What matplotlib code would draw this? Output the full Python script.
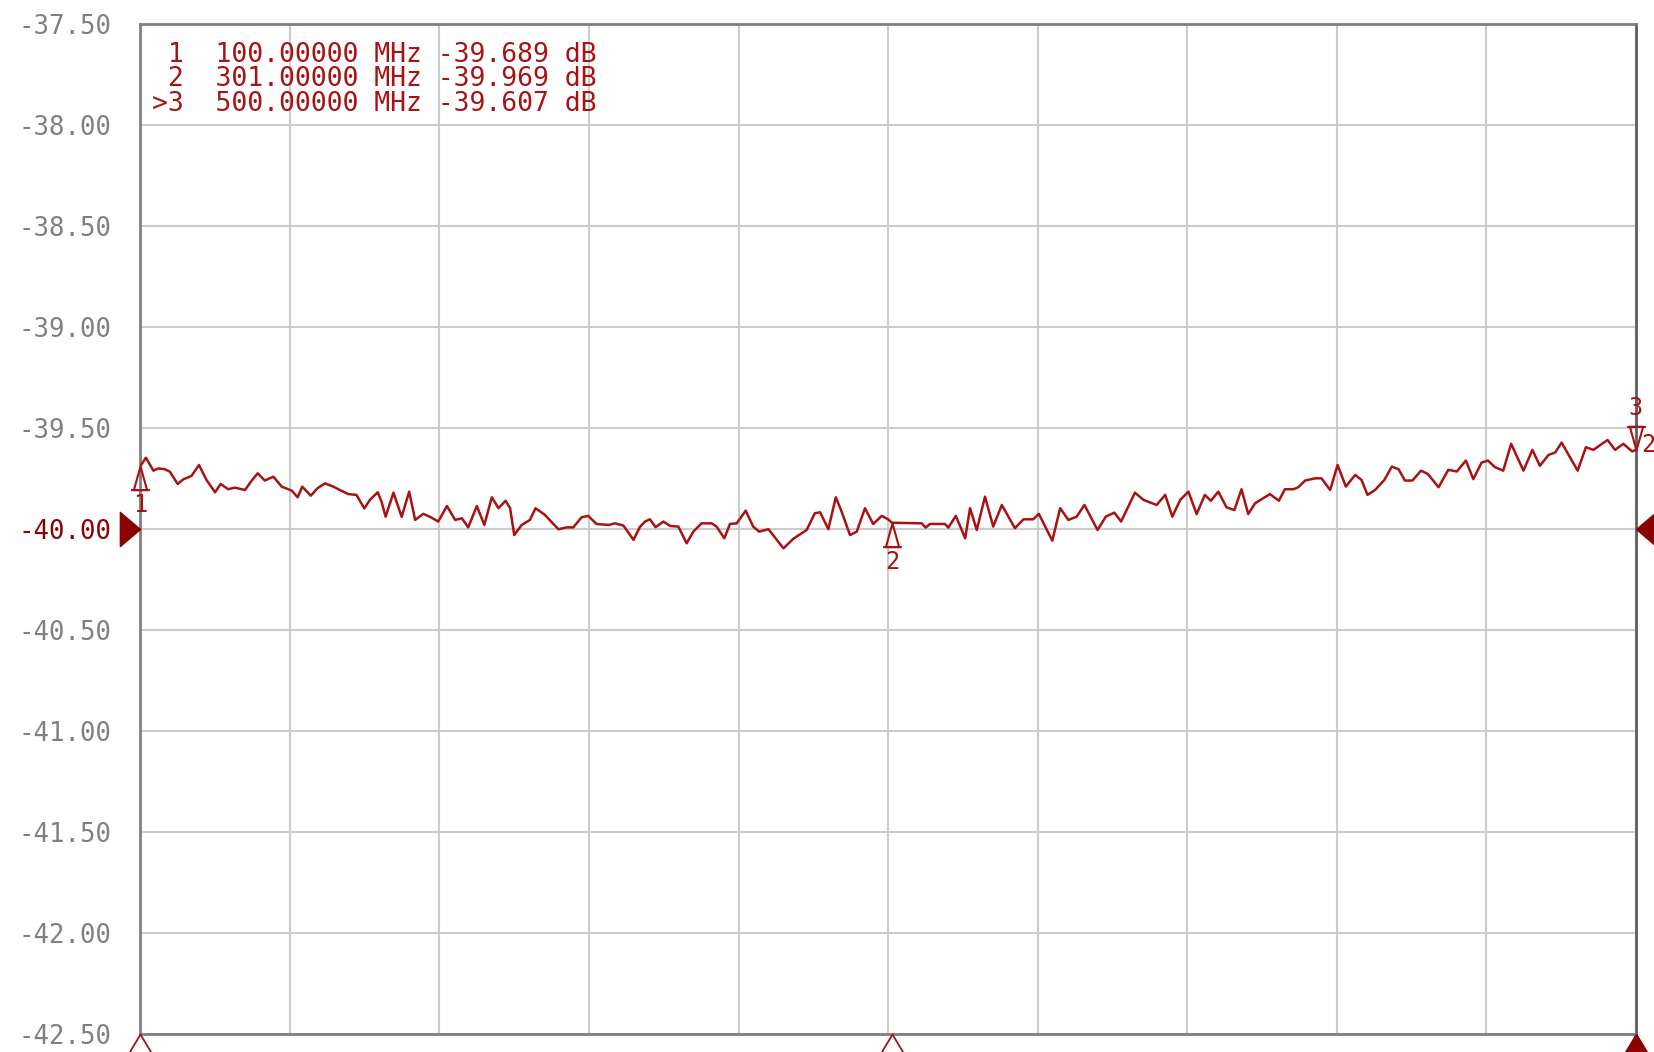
"""Network analyzer trace: 100-500 MHz, three markers.

Run: python plot.py
Outputs: out.png
"""

import matplotlib.pyplot as plt
from matplotlib.path import Path

RED = "#a81212"
DARK_RED = "#8b0000"
GRAY_TXT = "#808080"
MONO = "DejaVu Sans Mono"

# trace vertices (MHz, dB)
FREQ = [
    100.0, 101.5, 103.5, 104.8, 106.4, 107.9, 110.0, 111.5, 113.7, 115.7, 117.7, 120.0,
    121.5, 123.5, 125.3, 128.0, 129.6, 131.4, 133.3, 135.6, 137.8, 140.5, 142.1, 143.3,
    145.6, 147.4, 149.4, 151.6, 153.4, 155.6, 157.8, 159.9, 161.4, 163.5, 164.5, 165.6,
    167.7, 169.9, 171.9, 173.5, 175.7, 177.5, 179.7, 182.0, 184.2, 186.0, 187.7, 190.0,
    192.0, 194.0, 195.8, 197.7, 198.9, 200.0, 202.0, 204.2, 205.7, 208.2, 211.8, 214.0,
    215.8, 218.0, 219.8, 222.0, 225.3, 226.9, 229.2, 231.9,
    233.6, 235.0, 236.3, 237.8, 239.9, 241.7, 243.9, 246.1, 247.9, 250.1, 252.8, 254.1,
    256.2, 257.7, 259.5, 261.9, 263.9, 265.5, 268.0, 272.0, 274.6, 276.9, 278.2, 280.4,
    281.8, 284.0, 286.0, 287.4, 289.8, 291.6, 293.8, 296.0, 298.3, 300.0,
    301.0, 309.0, 310.0, 311.2, 315.2, 316.1, 318.1, 320.6, 321.9, 323.7, 325.9, 328.1,
    330.4, 333.9, 336.2, 338.8, 340.3, 343.9, 346.0, 348.2, 350.4, 352.5, 356.0, 358.2,
    360.5, 362.3,
    366.0, 368.3, 371.8, 374.1, 376.0, 378.1, 380.3, 382.5, 384.7, 386.3, 388.3, 390.5,
    392.6, 394.5, 396.3, 398.1, 400.3, 402.1, 404.5, 406.1, 408.4, 409.7, 411.5, 414.2,
    415.9, 418.2, 420.2, 422.4, 424.9, 426.6, 428.2, 430.2, 432.7,
    434.7, 436.5, 438.2, 440.2, 442.5, 444.3, 447.2, 449.8, 452.1, 454.5, 456.5, 458.7,
    460.4, 462.3, 464.5, 466.6, 469.9, 472.3, 474.3, 476.6, 478.4, 480.1, 484.4, 486.6,
    488.6, 492.4, 494.4, 496.6, 499.0, 500.0,
]
LEVEL_DB = [
    -39.689, -39.647, -39.711, -39.700, -39.703, -39.716, -39.777, -39.754, -39.737, -39.683, -39.757, -39.818,
    -39.777, -39.803, -39.795, -39.807, -39.765, -39.724, -39.760, -39.741, -39.790, -39.810, -39.843, -39.790,
    -39.835, -39.798, -39.774, -39.790, -39.807, -39.827, -39.831, -39.898, -39.856, -39.818, -39.864, -39.939,
    -39.820, -39.940, -39.815, -39.955, -39.925, -39.940, -39.963, -39.886, -39.955, -39.947, -39.992, -39.886,
    -39.980, -39.843, -39.897, -39.860, -39.897, -40.030, -39.980, -39.955, -39.897, -39.930, -40.001, -39.992,
    -39.992, -39.942, -39.935, -39.975, -39.980, -39.972, -39.983, -40.054,
    -39.990, -39.963, -39.952, -39.991, -39.963, -39.985, -39.988, -40.071, -40.013, -39.972, -39.972, -39.988,
    -40.046, -39.975, -39.972, -39.909, -39.988, -40.013, -40.001, -40.096, -40.049, -40.021, -40.005, -39.922,
    -39.917, -40.001, -39.843, -39.906, -40.030, -40.013, -39.897, -39.975, -39.935, -39.952,
    -39.969, -39.972, -39.993, -39.975, -39.975, -39.993, -39.935, -40.046, -39.897, -40.005, -39.840, -39.988,
    -39.881, -39.996, -39.952, -39.952, -39.925, -40.058, -39.897, -39.955, -39.939, -39.881, -40.005, -39.939,
    -39.919, -39.963,
    -39.820, -39.856, -39.881, -39.831, -39.939, -39.856, -39.815, -39.926, -39.831, -39.860, -39.815, -39.893,
    -39.906, -39.803, -39.926, -39.873, -39.848, -39.827, -39.860, -39.803, -39.803, -39.793, -39.760, -39.749,
    -39.749, -39.807, -39.683, -39.790, -39.732, -39.757, -39.831, -39.807, -39.757,
    -39.691, -39.704, -39.760, -39.760, -39.711, -39.727, -39.793, -39.707, -39.715, -39.661, -39.753, -39.671,
    -39.661, -39.694, -39.711, -39.578, -39.711, -39.608, -39.687, -39.633, -39.621, -39.572, -39.711, -39.595,
    -39.608, -39.559, -39.608, -39.578, -39.616, -39.607,
]

MARKER_IDS = ["1", "2", "3"]
MARKER_FREQ = [100.0, 301.0, 500.0]
MARKER_DB = [-39.689, -39.969, -39.607]
ACTIVE = "3"
REF_LEVEL = -40.0

X_MIN, X_MAX, X_STEP = 100, 500, 40
Y_MIN, Y_MAX, Y_STEP = -42.5, -37.5, 0.5


def marker_path(points_down):
    # outline triangle with a base bar, apex sitting on the trace point
    s = -1 if points_down else 1
    verts = [(0, 0), (-0.28, -s), (0.28, -s), (0, 0), (-0.4, -s), (0.4, -s)]
    codes = [Path.MOVETO, Path.LINETO, Path.LINETO, Path.CLOSEPOLY, Path.MOVETO, Path.LINETO]
    return Path(verts, codes)


def tri(direction):
    pts = {
        "right": [(0, 0), (-1, 0.85), (-1, -0.85), (0, 0)],
        "left": [(0, 0), (1, 0.85), (1, -0.85), (0, 0)],
        "up": [(0, 0), (-0.6, -1), (0.6, -1), (0, 0)],
    }[direction]
    codes = [Path.MOVETO, Path.LINETO, Path.LINETO, Path.CLOSEPOLY]
    return Path(pts, codes)


def run():
    W, H = 1654, 1052
    fig = plt.figure(figsize=(W / 100, H / 100), dpi=100)
    left, right, top, bottom = 140.3, 1636.0, 24.3, 1033.7
    ax = fig.add_axes([left / W, 1 - bottom / H, (right - left) / W, (bottom - top) / H])

    ax.plot(FREQ, LEVEL_DB, color=RED, lw=1.8, zorder=3)

    ax.set_xlim(X_MIN, X_MAX)
    ax.set_ylim(Y_MIN, Y_MAX)
    xt = [X_MIN + i * X_STEP for i in range(int((X_MAX - X_MIN) / X_STEP) + 1)]
    yt = [Y_MIN + i * Y_STEP for i in range(int(round((Y_MAX - Y_MIN) / Y_STEP)) + 1)]
    ax.set_xticks(xt)
    ax.set_yticks(yt)
    ax.set_xticklabels([])
    ax.set_yticklabels([f"{v:.2f}" for v in yt], family=MONO, fontsize=18.5)
    ax.tick_params(length=0, pad=21)
    for lab, v in zip(ax.get_yticklabels(), yt):
        lab.set_color(DARK_RED if abs(v - REF_LEVEL) < 1e-9 else GRAY_TXT)
    ax.grid(True, color="#cccccc", lw=1.5)
    ax.set_axisbelow(True)
    for sp in ax.spines.values():
        sp.set_color("#808080")
        sp.set_linewidth(2.0)
    ax.spines["right"].set_color("#606060")

    # marker readout in the top-left corner
    for i, (mid, f, db) in enumerate(zip(MARKER_IDS, MARKER_FREQ, MARKER_DB)):
        prefix = ">" if mid == ACTIVE else " "
        fig.text(152 / W, 1 - (55 + 24.5 * i) / H,
                 f"{prefix}{mid}  {f:.5f} MHz {db:.3f} dB",
                 family=MONO, fontsize=19, color=RED, va="center", ha="left")

    # markers on the trace
    for mid, f, db in zip(MARKER_IDS, MARKER_FREQ, MARKER_DB):
        down = mid == ACTIVE
        ax.plot([f], [db], marker=marker_path(down), ms=34, mfc="none", mec=RED,
                mew=1.5, ls="none", clip_on=False, zorder=4)
        off = 30 if down else -28
        ax.annotate(mid, (f, db), xytext=(0, off), textcoords="offset points",
                    ha="center", va="center", family=MONO, fontsize=17, color=RED,
                    annotation_clip=False)
    ax.annotate("2", (MARKER_FREQ[-1], MARKER_DB[-1]), xytext=(4, 3),
                textcoords="offset points", ha="left", va="center", family=MONO,
                fontsize=17, color=RED, annotation_clip=False)

    # reference level arrows and marker positions on the x axis
    ax.plot([X_MIN], [REF_LEVEL], marker=tri("right"), ms=29, color=DARK_RED,
            ls="none", clip_on=False, zorder=5)
    ax.plot([X_MAX], [REF_LEVEL], marker=tri("left"), ms=29, color=DARK_RED,
            ls="none", clip_on=False, zorder=5)
    for mid, f in zip(MARKER_IDS, MARKER_FREQ):
        active = mid == ACTIVE
        ax.plot([f], [Y_MIN], marker=tri("up"), ms=34, mec=RED if not active else DARK_RED,
                mfc=DARK_RED if active else "white", mew=1.3, ls="none",
                clip_on=False, zorder=5)

    fig.savefig("out.png", dpi=100)
    plt.close(fig)


if __name__ == "__main__":
    run()
